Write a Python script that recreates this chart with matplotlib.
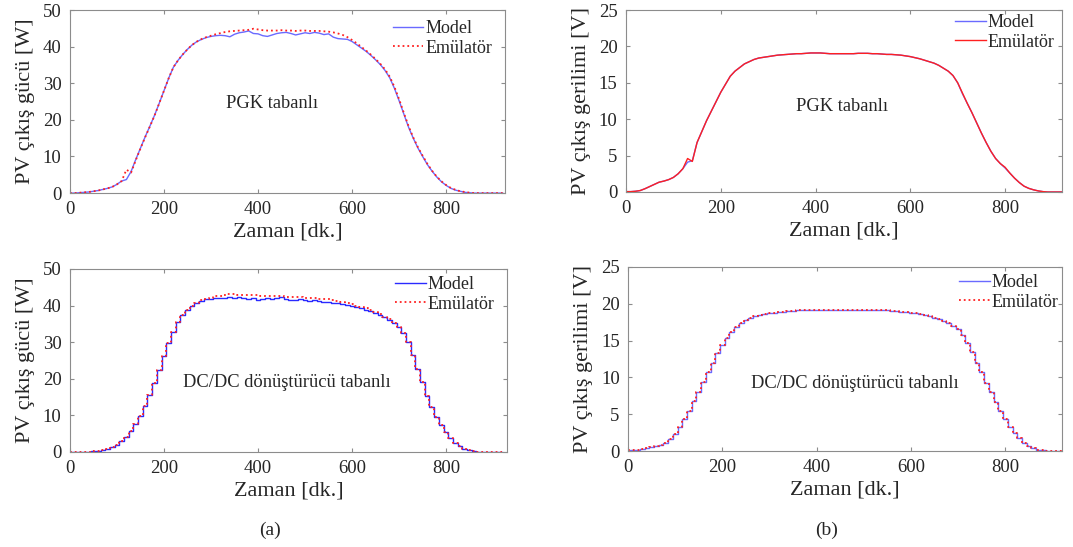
import numpy as np
import matplotlib
matplotlib.use("Agg")
import matplotlib.pyplot as plt

plt.rcParams['font.family'] = ['Liberation Serif', 'DejaVu Serif']

# zaman ekseni [dk.]
t = np.arange(0, 930, 10)

# PGK tabanli - PV cikis gucu [W]
p1_model = [0.0, 0.0, 0.1, 0.2, 0.3, 0.5, 0.7, 1.0, 1.3, 1.7,
            2.4, 3.3, 3.7, 5.9, 9.2, 12.3, 15.4, 18.3, 21.3, 24.6,
            28.0, 31.4, 34.4, 36.3, 37.9, 39.3, 40.5, 41.4, 42.0, 42.5,
            42.8, 43.0, 43.1, 43.0, 42.7, 43.4, 43.8, 44.0, 44.3, 43.6,
            43.5, 43.0, 42.8, 43.2, 43.6, 43.8, 43.9, 43.6, 43.2, 43.5,
            43.8, 43.6, 43.9, 43.7, 43.3, 43.5, 42.6, 42.2, 42.1, 42.0,
            41.4, 40.5, 39.6, 38.7, 37.6, 36.4, 35.1, 33.5, 31.5, 28.6,
            25.2, 21.6, 18.0, 15.0, 12.3, 10.0, 7.8, 6.0, 4.4, 3.1,
            2.1, 1.3, 0.8, 0.5, 0.2, 0.1, 0.0, 0.0, 0.0, 0.0, 0.0, 0.0, 0.0]
p1_emu = [0.0, 0.0, 0.1, 0.2, 0.3, 0.5, 0.7, 1.0, 1.3, 1.7,
          2.4, 3.3, 6.4, 5.6, 9.0, 12.2, 15.3, 18.2, 21.2, 24.6,
          28.0, 31.4, 34.4, 36.3, 37.9, 39.3, 40.5, 41.4, 42.1, 42.6,
          43.0, 43.4, 43.7, 44.0, 44.2, 44.3, 44.4, 44.5, 44.6, 44.9,
          44.7, 44.5, 44.4, 44.4, 44.4, 44.5, 44.4, 44.4, 44.3, 44.4,
          44.4, 44.3, 44.3, 44.3, 44.2, 44.1, 43.9, 43.6, 43.2, 42.6,
          41.8, 40.9, 39.9, 38.9, 37.8, 36.6, 35.3, 33.8, 31.8, 29.0,
          25.6, 21.9, 18.3, 15.2, 12.5, 10.2, 8.0, 6.1, 4.5, 3.2,
          2.2, 1.4, 0.9, 0.5, 0.3, 0.1, 0.0, 0.0, 0.0, 0.0, 0.0, 0.0, 0.0]

# PGK tabanli - PV cikis gerilimi [V]
v1_model = [0.05, 0.05, 0.1, 0.2, 0.45, 0.75, 1.05, 1.35, 1.5, 1.7,
            2.0, 2.5, 3.2, 4.1, 4.3, 6.8, 8.3, 9.8, 11.1, 12.4,
            13.7, 14.8, 15.9, 16.6, 17.1, 17.6, 17.9, 18.2, 18.4, 18.5,
            18.6, 18.7, 18.8, 18.85, 18.9, 18.95, 19.0, 19.0, 19.05, 19.1,
            19.1, 19.1, 19.05, 19.0, 19.0, 19.0, 19.0, 19.0, 19.0, 19.05,
            19.05, 19.05, 19.0, 19.0, 18.95, 18.9, 18.9, 18.85, 18.8, 18.7,
            18.6, 18.45, 18.3, 18.1, 17.9, 17.7, 17.4, 17.0, 16.6, 16.0,
            15.0, 13.5, 12.2, 10.9, 9.5, 8.1, 6.8, 5.6, 4.6, 3.9,
            3.3, 2.6, 1.9, 1.3, 0.8, 0.5, 0.3, 0.15, 0.05, 0.0, 0.0, 0.0, 0.0]
v1_emu = [0.05, 0.05, 0.1, 0.2, 0.45, 0.75, 1.05, 1.35, 1.5, 1.7,
          2.0, 2.5, 3.2, 4.6, 4.2, 6.8, 8.3, 9.8, 11.1, 12.4,
          13.7, 14.8, 15.9, 16.6, 17.1, 17.6, 17.9, 18.2, 18.4, 18.5,
          18.6, 18.7, 18.8, 18.85, 18.9, 18.95, 19.0, 19.0, 19.05, 19.1,
          19.1, 19.1, 19.05, 19.0, 19.0, 19.0, 19.0, 19.0, 19.0, 19.05,
          19.05, 19.05, 19.0, 19.0, 18.95, 18.9, 18.9, 18.85, 18.8, 18.7,
          18.6, 18.45, 18.3, 18.1, 17.9, 17.7, 17.4, 17.0, 16.6, 16.0,
          15.0, 13.6, 12.2, 10.9, 9.5, 8.1, 6.8, 5.6, 4.6, 3.9,
          3.4, 2.6, 1.9, 1.3, 0.8, 0.5, 0.3, 0.15, 0.05, 0.0, 0.0, 0.0, 0.0]

# DC/DC donusturucu tabanli - PV cikis gucu [W]
p2_model = [0.0, 0.0, 0.0, 0.1, 0.1, 0.2, 0.3, 0.5, 0.8, 1.3,
            2.0, 3.0, 4.2, 5.8, 7.6, 9.9, 12.6, 15.6, 18.8, 22.4,
            26.2, 29.7, 32.8, 35.4, 37.4, 38.9, 40.0, 40.8, 41.3, 41.7,
            41.9, 42.0, 42.0, 42.1, 42.3, 42.2, 42.4, 42.2, 41.9, 42.2,
            41.6, 41.9, 42.2, 41.7, 42.0, 42.3, 41.8, 41.5, 41.6, 41.9,
            41.6, 41.2, 41.5, 41.3, 41.0, 40.9, 40.6, 40.8, 40.4, 40.2,
            40.0, 39.7, 39.3, 38.9, 38.4, 37.9, 37.3, 36.8, 36.0, 35.2,
            34.2, 32.6, 30.0, 26.6, 22.8, 19.0, 15.4, 12.3, 9.6, 7.3,
            5.4, 3.8, 2.5, 1.5, 0.9, 0.5, 0.3, 0.1, 0.0, 0.0, 0.0, 0.0, 0.0]
p2_emu = [0.0, 0.0, 0.0, 0.1, 0.1, 0.2, 0.3, 0.5, 0.8, 1.3,
          2.0, 3.0, 4.2, 5.8, 7.6, 9.9, 12.6, 15.6, 18.8, 22.4,
          26.2, 29.7, 32.8, 35.4, 37.4, 38.9, 40.0, 40.8, 41.4, 41.9,
          42.2, 42.5, 42.7, 42.9, 43.1, 43.1, 43.0, 43.0, 42.9, 42.9,
          42.8, 42.7, 42.6, 42.6, 42.5, 42.5, 42.4, 42.4, 42.3, 42.3,
          42.2, 42.1, 42.0, 41.9, 41.8, 41.7, 41.5, 41.3, 41.0, 40.7,
          40.4, 40.0, 39.6, 39.2, 38.7, 38.2, 37.6, 37.0, 36.2, 35.3,
          34.2, 32.6, 30.0, 26.6, 22.8, 19.0, 15.4, 12.3, 9.6, 7.3,
          5.4, 3.8, 2.5, 1.5, 0.9, 0.5, 0.3, 0.1, 0.0, 0.0, 0.0, 0.0, 0.0]

# DC/DC donusturucu tabanli - PV cikis gerilimi [V]
v2_model = [0.05, 0.1, 0.15, 0.3, 0.4, 0.6, 0.7, 0.85, 1.1, 1.6,
            2.3, 3.2, 4.3, 5.5, 6.8, 8.0, 9.4, 10.8, 12.0, 13.3,
            14.4, 15.4, 16.2, 16.9, 17.4, 17.8, 18.1, 18.3, 18.5, 18.6,
            18.7, 18.8, 18.9, 18.95, 19.0, 19.05, 19.1, 19.1, 19.15, 19.2,
            19.2, 19.15, 19.1, 19.1, 19.1, 19.1, 19.1, 19.1, 19.15, 19.15,
            19.15, 19.15, 19.1, 19.1, 19.1, 19.1, 19.05, 19.0, 18.95, 18.9,
            18.8, 18.7, 18.6, 18.45, 18.3, 18.1, 17.9, 17.65, 17.4, 17.0,
            16.6, 15.8, 14.7, 13.4, 12.0, 10.7, 9.3, 8.0, 6.6, 5.4,
            4.3, 3.3, 2.4, 1.7, 1.1, 0.7, 0.4, 0.2, 0.1, 0.05, 0.0, 0.0, 0.0]
v2_emu = [0.1, 0.1, 0.15, 0.3, 0.4, 0.6, 0.7, 0.85, 1.1, 1.6,
          2.3, 3.2, 4.3, 5.5, 6.8, 8.0, 9.4, 10.8, 12.0, 13.3,
          14.4, 15.4, 16.2, 16.9, 17.4, 17.8, 18.1, 18.3, 18.5, 18.6,
          18.7, 18.8, 18.9, 18.95, 19.0, 19.05, 19.1, 19.1, 19.15, 19.2,
          19.2, 19.15, 19.1, 19.1, 19.1, 19.1, 19.1, 19.1, 19.15, 19.15,
          19.15, 19.15, 19.1, 19.1, 19.1, 19.1, 19.05, 19.0, 18.95, 18.9,
          18.8, 18.7, 18.6, 18.45, 18.3, 18.1, 17.9, 17.65, 17.4, 17.0,
          16.6, 15.8, 14.7, 13.4, 12.0, 10.7, 9.3, 8.0, 6.6, 5.4,
          4.3, 3.3, 2.4, 1.7, 1.1, 0.7, 0.4, 0.2, 0.1, 0.05, 0.0, 0.0, 0.0]

GRAY = '#8c8c8c'
TXT = '#262626'

fig = plt.figure(figsize=(10.73, 5.47), dpi=100)

# her panel: konum, veri, eksen ayarlari
paneller = [
    ([0.0652, 0.647, 0.4054, 0.3346], p1_model, p1_emu, 50, 925, 'PV çıkış gücü [W]',
     'PGK tabanlı', (430, 24.6), ':', False, '#6a6aff', (0.742, 0.946)),
    ([0.5834, 0.649, 0.4063, 0.3327], v1_model, v1_emu, 25, 920, 'PV çıkış gerilimi [V]',
     'PGK tabanlı', (455, 11.7), '-', False, '#6a6aff', (0.755, 0.979)),
    ([0.0652, 0.1737, 0.4073, 0.3346], p2_model, p2_emu, 50, 930, 'PV çıkış gücü [W]',
     'DC/DC dönüştürücü tabanlı', (462, 18.9), ':', True, '#2a2aff', (0.744, 0.962)),
    ([0.5853, 0.1755, 0.4045, 0.3364], v2_model, v2_emu, 25, 920, 'PV çıkış gerilimi [V]',
     'DC/DC dönüştürücü tabanlı', (480, 9.2), ':', True, '#6a6aff', (0.763, 0.962)),
]

for pos, mod, emu, ymax, xmax, ylab, yazi, yxy, rstyle, basamak, bcol, leg in paneller:
    ax = fig.add_axes(pos)
    ds = 'steps-mid' if basamak else 'default'
    ax.plot(t, mod, color=bcol, lw=1.0, drawstyle=ds, label='Model')
    ax.plot(t, emu, color='#ff2020', lw=1.0 if rstyle == '-' else 1.3, ls=rstyle,
            drawstyle=ds, label='Emülatör')
    ax.set_xlim(0, xmax)
    ax.set_ylim(0, ymax)
    ax.set_xticks([0, 200, 400, 600, 800])
    ax.set_yticks(np.arange(0, ymax + 1, 10 if ymax == 50 else 5))
    ax.tick_params(direction='in', top=True, right=True, length=3, color=GRAY,
                   labelsize=13.5, labelcolor=TXT, pad=6)
    for s in ax.spines.values():
        s.set_color(GRAY)
        s.set_linewidth(0.8)
    ax.set_xlabel('Zaman [dk.]', fontsize=16, color=TXT, labelpad=3)
    ax.set_ylabel(ylab, fontsize=16, color=TXT, labelpad=6)
    ax.text(yxy[0], yxy[1], yazi, fontsize=13.3, color=TXT, ha='center', va='center')
    ax.legend(loc='upper left', bbox_to_anchor=leg, frameon=False, fontsize=13,
              handlelength=1.7, handletextpad=0.1, borderpad=0, borderaxespad=0,
              labelspacing=0.15, labelcolor=TXT)

fig.text(270 / 1073, 1 - 530 / 547, '(a)', fontsize=14, color=TXT, ha='center', va='center')
fig.text(827 / 1073, 1 - 530 / 547, '(b)', fontsize=14, color=TXT, ha='center', va='center')

fig.savefig('out.png', dpi=100)
